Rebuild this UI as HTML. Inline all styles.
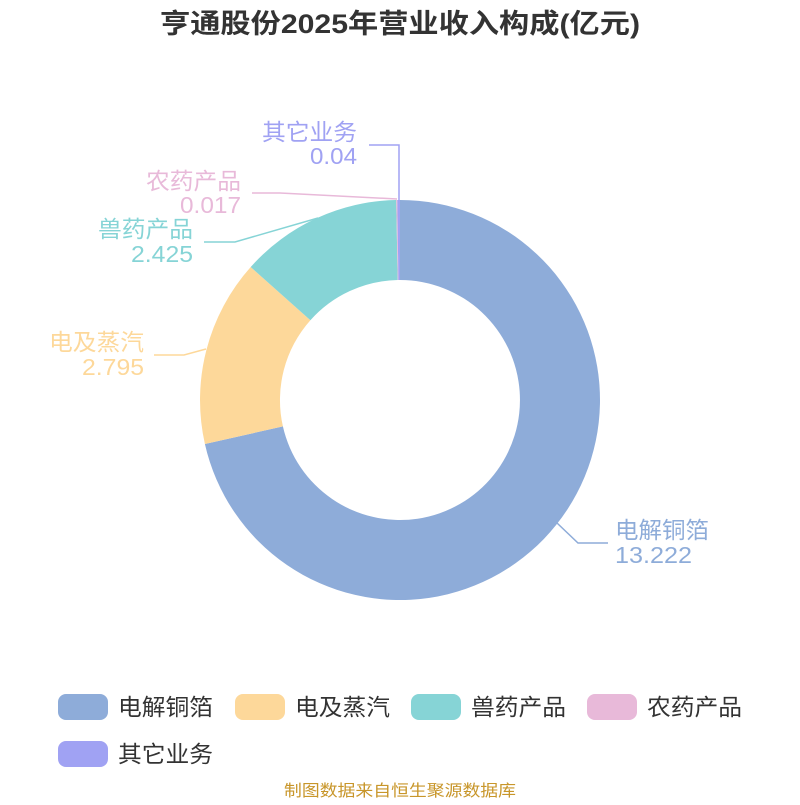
<!DOCTYPE html>
<html><head><meta charset="utf-8"><style>
body{margin:0;background:#fff;}
svg text{font-family:"Liberation Sans","Noto Sans CJK SC",sans-serif;}
</style></head><body>
<svg width="800" height="800" viewBox="0 0 800 800" xmlns="http://www.w3.org/2000/svg">
<rect width="800" height="800" fill="#fff"/>
<text x="160" y="33" textLength="480" lengthAdjust="spacingAndGlyphs" font-size="27" font-weight="bold" fill="#333">亨通股份2025年营业收入构成(亿元)</text>
<path d="M400,200 A200,200 0 1 1 204.9,444 L282.9,426.4 A120,120 0 1 0 400,280 Z" fill="#8eacd9"/>
<path d="M204.9,444 A200,200 0 0 1 250.7,267 L310.4,320.2 A120,120 0 0 0 282.9,426.4 Z" fill="#fdd89a"/>
<path d="M250.7,267 A200,200 0 0 1 396.2,200 L397.7,280 A120,120 0 0 0 310.4,320.2 Z" fill="#86d4d6"/>
<path d="M396.2,200 A200,200 0 0 1 397.3,200 L398.4,280 A120,120 0 0 0 397.7,280 Z" fill="#e8b9d9"/>
<path d="M397.3,200 A200,200 0 0 1 400,200 L400,280 A120,120 0 0 0 398.4,280 Z" fill="#a0a2f3"/>
<g fill="none" stroke-width="1.5">
<polyline points="557,523 578,543 608,543" stroke="#8eacd9"/>
<polyline points="206,349 184,355 154,355" stroke="#fdd89a"/>
<polyline points="318,218 235,242 204,242" stroke="#86d4d6"/>
<polyline points="397,199 280,193 252,193" stroke="#e8b9d9"/>
<polyline points="399,200 399,145 369,145" stroke="#a0a2f3"/>
</g>
<g font-size="23">
<text x="615" y="538" fill="#8eacd9" textLength="94" lengthAdjust="spacingAndGlyphs">电解铜箔</text>
<text x="615" y="563" fill="#8eacd9" textLength="77" lengthAdjust="spacingAndGlyphs">13.222</text>
<text x="49" y="350" fill="#fdd89a" textLength="95" lengthAdjust="spacingAndGlyphs">电及蒸汽</text>
<text x="82" y="375" fill="#fdd89a" textLength="62" lengthAdjust="spacingAndGlyphs">2.795</text>
<text x="98" y="237" fill="#86d4d6" textLength="95" lengthAdjust="spacingAndGlyphs">兽药产品</text>
<text x="131" y="262" fill="#86d4d6" textLength="62" lengthAdjust="spacingAndGlyphs">2.425</text>
<text x="146" y="189" fill="#e8b9d9" textLength="95" lengthAdjust="spacingAndGlyphs">农药产品</text>
<text x="180" y="213" fill="#e8b9d9" textLength="61" lengthAdjust="spacingAndGlyphs">0.017</text>
<text x="262" y="140" fill="#a0a2f3" textLength="95" lengthAdjust="spacingAndGlyphs">其它业务</text>
<text x="310" y="164" fill="#a0a2f3" textLength="47" lengthAdjust="spacingAndGlyphs">0.04</text>
</g>
<g font-size="23" fill="#333">
<rect x="58" y="694" width="50" height="26" rx="8" fill="#8eacd9"/><text x="118" y="715" textLength="95" lengthAdjust="spacingAndGlyphs">电解铜箔</text>
<rect x="235" y="694" width="50" height="26" rx="8" fill="#fdd89a"/><text x="295" y="715" textLength="95" lengthAdjust="spacingAndGlyphs">电及蒸汽</text>
<rect x="411" y="694" width="50" height="26" rx="8" fill="#86d4d6"/><text x="471" y="715" textLength="95" lengthAdjust="spacingAndGlyphs">兽药产品</text>
<rect x="587" y="694" width="50" height="26" rx="8" fill="#e8b9d9"/><text x="647" y="715" textLength="95" lengthAdjust="spacingAndGlyphs">农药产品</text>
<rect x="58" y="741" width="50" height="26" rx="8" fill="#a0a2f3"/><text x="118" y="762" textLength="95" lengthAdjust="spacingAndGlyphs">其它业务</text>
</g>
<text x="284" y="796" textLength="232" lengthAdjust="spacingAndGlyphs" font-size="16" fill="#c8962a">制图数据来自恒生聚源数据库</text>
</svg>
</body></html>
